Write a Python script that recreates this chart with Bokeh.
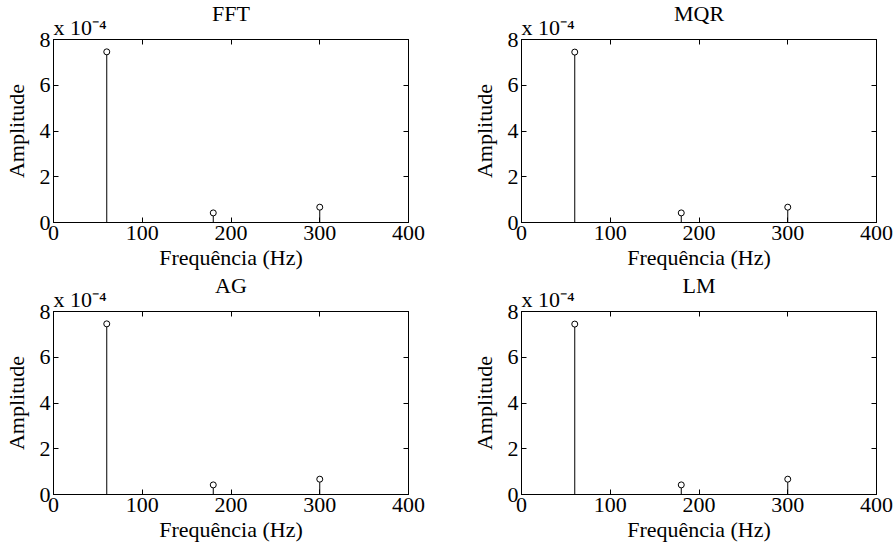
from bokeh.plotting import figure
from bokeh.layouts import gridplot
from bokeh.models import LinearAxis, FixedTicker, Range1d, CustomJSTickFormatter, Title
from bokeh.embed import file_html
from bokeh.resources import INLINE

titles = ["FFT", "MQR", "AG", "LM"]
freqs = [60, 180, 300]
amp_fft = [7.46, 0.42, 0.67]
amp_mqr = [7.45, 0.42, 0.67]
amp_ag = [7.46, 0.42, 0.67]
amp_lm = [7.45, 0.42, 0.67]
series = [amp_fft, amp_mqr, amp_ag, amp_lm]
x_ticks = [0, 100, 200, 300, 400]
y_ticks = [0, 2, 4, 6, 8]
x_label = "Frequência (Hz)"
y_label = "Amplitude"
scale_text = "x 10\u207b\u2074"

FONT = "Liberation Serif"
FS = "22px"

def style_axis(ax, labels=True):
    ax.major_tick_in = 5
    ax.major_tick_out = 0
    ax.minor_tick_in = 0
    ax.minor_tick_out = 0
    ax.axis_line_color = "black"
    ax.major_tick_line_color = "black"
    ax.major_label_text_font = FONT
    ax.major_label_text_font_size = FS
    ax.major_label_text_color = "black"
    ax.axis_label_text_font = FONT
    ax.axis_label_text_font_size = FS
    ax.axis_label_text_font_style = "normal"
    ax.axis_label_text_color = "black"
    if not labels:
        ax.formatter = CustomJSTickFormatter(code="return ''")
        ax.major_label_standoff = 0

def make(i):
    row, col = divmod(i, 2)
    w = 468 if col == 0 else 428
    h = 271 if row == 0 else 279
    p = figure(width=w, height=h, output_backend="svg", toolbar_location=None,
               x_range=Range1d(0, 400), y_range=Range1d(0, 8),
               min_border_left=53, min_border_top=39,
               min_border_right=w - 53 - 355, min_border_bottom=h - 39 - 183)
    p.frame_width = 355
    p.frame_height = 183
    p.grid.visible = False
    p.outline_line_color = "black"
    p.outline_line_alpha = 1
    style_axis(p.xaxis[0])
    p.xaxis[0].ticker = FixedTicker(ticks=x_ticks)
    p.xaxis[0].major_label_standoff = 3
    p.xaxis[0].axis_label = x_label
    p.xaxis[0].axis_label_standoff = 2
    style_axis(p.yaxis[0])
    p.yaxis[0].ticker = FixedTicker(ticks=y_ticks)
    p.yaxis[0].major_label_standoff = 3
    p.yaxis[0].axis_label = y_label
    p.yaxis[0].axis_label_standoff = 8
    top = LinearAxis(); style_axis(top, False); top.ticker = FixedTicker(ticks=x_ticks)
    right = LinearAxis(); style_axis(right, False); right.ticker = FixedTicker(ticks=y_ticks)
    p.add_layout(top, "above")
    p.add_layout(right, "right")
    p.add_layout(Title(text=scale_text, align="left", text_font=FONT, text_font_size=FS,
                       text_font_style="normal", text_color="black", standoff=0, offset=0), "above")
    p.add_layout(Title(text=titles[i], align="center", text_font=FONT, text_font_size=FS,
                       text_font_style="normal", text_color="black", standoff=-26), "above")
    vals = series[i]
    p.segment(x0=freqs, y0=[0] * len(freqs), x1=freqs, y1=vals, line_color="black", line_width=1)
    p.scatter(x=freqs, y=vals, size=6, marker="circle", fill_color="white", line_color="black", line_width=1)
    return p

figs = [make(i) for i in range(4)]
grid = gridplot([[figs[0], figs[1]], [figs[2], figs[3]]], toolbar_location=None)
open("out.html", "w").write(file_html(grid, INLINE))
